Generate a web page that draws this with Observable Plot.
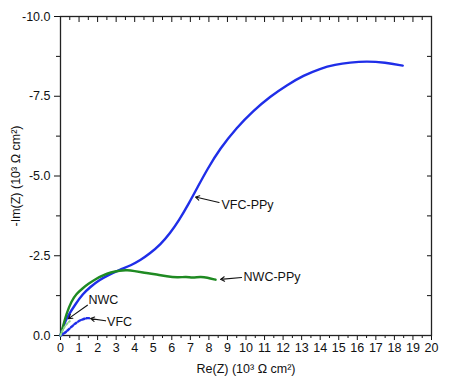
<!DOCTYPE html>
<html><head><meta charset="utf-8">
<script src="https://cdn.jsdelivr.net/npm/d3@7"></script>
<script src="https://cdn.jsdelivr.net/npm/@observablehq/plot@0.6"></script>
<style>body{margin:0;background:#fff}</style>
</head><body><div id="chart"></div>
<script>
// VFC-PPy (blue solid)
const vfcPpyRe = [0, 0.15, 0.4, 0.8, 1.2, 1.6, 2.1, 2.6, 3.2, 3.8, 4.3, 4.8, 5.4, 5.9, 6.4, 6.9, 7.4, 7.9, 8.6, 9.5, 10.4, 11.3, 12.2, 13.1, 14.0, 14.8, 15.6, 16.5, 17.5, 18.45];
const vfcPpyIm = [0, -0.3, -0.62, -0.98, -1.3, -1.52, -1.74, -1.9, -2.06, -2.2, -2.36, -2.56, -2.86, -3.2, -3.62, -4.12, -4.66, -5.2, -5.86, -6.52, -7.05, -7.49, -7.85, -8.15, -8.37, -8.49, -8.56, -8.6, -8.56, -8.46];
// NWC-PPy (green solid)
const nwcPpyRe = [0, 0.05, 0.14, 0.32, 0.59, 0.85, 1.17, 1.5, 1.89, 2.3, 2.7, 3.2, 3.6, 4.0, 4.4, 5.1, 5.75, 6.3, 6.8, 7.1, 7.55, 7.9, 8.36];
const nwcPpyIm = [0, -0.1, -0.3, -0.68, -1.08, -1.3, -1.47, -1.62, -1.77, -1.89, -1.98, -2.04, -2.05, -2.02, -1.98, -1.92, -1.85, -1.82, -1.84, -1.81, -1.84, -1.82, -1.75];
// VFC (blue dotted)
const vfcRe = [0, 0.1, 0.23, 0.5, 0.86, 1.22, 1.49, 1.55];
const vfcIm = [0, -0.03, -0.08, -0.22, -0.42, -0.52, -0.55, -0.54];
// NWC (light green dotted)
const nwcRe = [0, 0.1, 0.25, 0.4, 0.5];
const nwcIm = [0, -0.15, -0.3, -0.4, -0.45];

// ticks
const xMajor = d3.range(0, 21, 1);
const xMinor = d3.range(0.5, 20, 1);
const yMajor = [0, -2.5, -5, -7.5, -10];
const yMinor = [-1.25, -3.75, -6.25, -8.75];

// annotations
const annLabels = ["VFC-PPy", "NWC-PPy", "NWC", "VFC"];
const annTextX = [8.68, 9.87, 1.51, 2.51];
const annTextY = [-4.08, -1.82, -1.10, -0.42];
const annTailX = [8.55, 9.76, 1.45, 2.43];
const annTailY = [-4.17, -1.82, -0.95, -0.46];
const annHeadX = [7.28, 8.63, 0.43, 1.62];
const annHeadY = [-4.34, -1.76, -0.53, -0.53];

const zip = (a, b) => a.map((v, i) => ({re: v, im: b[i]}));
const ann = annLabels.map((l, i) => ({label: l, tx: annTextX[i], ty: annTextY[i], x1: annTailX[i], y1: annTailY[i], x2: annHeadX[i], y2: annHeadY[i]}));

const tk = {stroke: "#111", strokeWidth: 1};
const chart = Plot.plot({
  width: 449, height: 386,
  marginLeft: 60, marginRight: 18, marginTop: 16, marginBottom: 51,
  style: {fontFamily: "'Liberation Sans', Arial, sans-serif", fontSize: "12.5px", color: "#111", background: "white"},
  x: {domain: [0, 20]},
  y: {domain: [0, -10]},
  marks: [
    Plot.axisX({...tk, ticks: xMajor, tickSize: 5, tickPadding: 3, tickFormat: d => String(d), label: "Re(Z) (10³ Ω cm²)", labelAnchor: "center", labelOffset: 37, labelArrow: false}),
    Plot.axisX({...tk, ticks: xMinor, tickSize: 3, tickFormat: () => "", label: null}),
    Plot.axisX({...tk, anchor: "top", ticks: xMajor, tickSize: 5, dy: 5, tickFormat: () => "", label: null}),
    Plot.axisX({...tk, anchor: "top", ticks: xMinor, tickSize: 3, dy: 3, tickFormat: () => "", label: null}),
    Plot.axisY({...tk, ticks: yMajor, tickSize: 6, tickPadding: 4, tickFormat: d => d.toFixed(1), label: "-Im(Z) (10³ Ω cm²)", labelAnchor: "center", labelOffset: 49, labelArrow: false}),
    Plot.axisY({...tk, ticks: yMinor, tickSize: 4, tickFormat: () => "", label: null}),
    Plot.axisY({...tk, anchor: "right", ticks: yMajor, tickSize: 5, dx: -5, tickFormat: () => "", label: null}),
    Plot.axisY({...tk, anchor: "right", ticks: yMinor, tickSize: 5, dx: -5, tickFormat: () => "", label: null}),
    Plot.frame({stroke: "#222", strokeWidth: 1.3}),
    Plot.line(zip(vfcPpyRe, vfcPpyIm), {x: "re", y: "im", stroke: "#1f2ee8", strokeWidth: 2.4, curve: "basis"}),
    Plot.line(zip(nwcPpyRe, nwcPpyIm), {x: "re", y: "im", stroke: "#1f8a22", strokeWidth: 2.4, curve: "basis"}),
    Plot.line(zip(vfcRe, vfcIm), {x: "re", y: "im", stroke: "#1f2ee8", strokeWidth: 2.4, strokeDasharray: "2.5,2", curve: "basis"}),
    Plot.line(zip(nwcRe, nwcIm), {x: "re", y: "im", stroke: "#8fd88f", strokeWidth: 2, strokeDasharray: "2,2", curve: "basis"}),
    Plot.arrow(ann, {x1: "x1", y1: "y1", x2: "x2", y2: "y2", stroke: "#111", strokeWidth: 1.1, headLength: 6}),
    Plot.text(ann, {x: "tx", y: "ty", text: "label", textAnchor: "start", fontSize: 12.5, fill: "#111"})
  ]
});
document.getElementById("chart").appendChild(chart);
</script>
</body></html>
